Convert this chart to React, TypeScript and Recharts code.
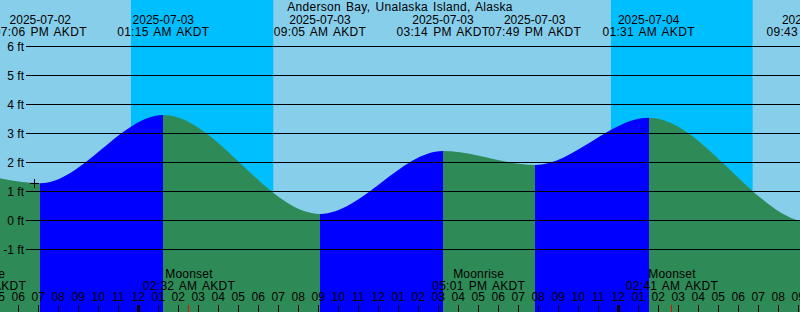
import {
  ComposedChart,
  Area,
  XAxis,
  YAxis,
  ReferenceArea,
  ReferenceLine,
  ReferenceDot,
} from "recharts";

const title = "Anderson Bay, Unalaska Island, Alaska";

// tide extremes, alternating low / high, as labelled along the top
const tideDates = ["2025-07-02", "2025-07-03", "2025-07-03", "2025-07-03", "2025-07-03", "2025-07-04", "2025-07-04"];
const tideTimes = ["07:06 PM AKDT", "01:15 AM AKDT", "09:05 AM AKDT", "03:14 PM AKDT", "07:49 PM AKDT", "01:31 AM AKDT", "09:43 AM AKDT"];
const tideLevels = [1.27, 3.62, 0.21, 2.38, 1.9, 3.53, -0.1];

// the highs just outside the picture on either side (estimated, unlabelled)
const outerDates = ["2025-07-02", "2025-07-04"];
const outerTimes = ["01:04 PM", "03:50 PM"];
const outerLevels = [2.4, 2.5];

// night (sunset -> sunrise)
const nightStartDates = ["2025-07-02", "2025-07-03"];
const nightStartTimes = ["11:38 PM", "11:38 PM"];
const nightEndDates = ["2025-07-03", "2025-07-04"];
const nightEndTimes = ["06:45 AM", "06:43 AM"];

const moonEvents = ["Moonrise", "Moonset", "Moonrise", "Moonset"];
const moonDates = ["2025-07-02", "2025-07-03", "2025-07-03", "2025-07-04"];
const moonTimes = ["04:04 PM AKDT", "02:32 AM AKDT", "05:01 PM AKDT", "02:41 AM AKDT"];

const levelTicks = [-1, 0, 1, 2, 3, 4, 5, 6];
// hours from midnight 2025-07-03
const hourTicks = [
  -7, -6, -5, -4, -3, -2, -1, 0, 1, 2, 3, 4, 5, 6, 7, 8, 9, 10, 11, 12, 13, 14, 15, 16,
  17, 18, 19, 20, 21, 22, 23, 24, 25, 26, 27, 28, 29, 30, 31, 32, 33,
];

// the "+" mark
const markHour = -5.19;
const markLevel = 1.26;

const W = 800;
const H = 312;
const X_MIN = -6.915;
const X_MAX = 33.085;
const Y_MIN = -92 / 29;
const Y_MAX = 220 / 29;

const FONT = "'Liberation Sans', Arial, sans-serif";
const DAY = "#87CEEB";
const NIGHT = "#00BFFF";
const RISING = "#0000FF";
const FALLING = "#2E8B57";

const toHours = (date: string, time: string) => {
  const day = (Date.parse(date) - Date.parse("2025-07-03")) / 86400000;
  const [hm, ap] = time.split(" ");
  const [h, m] = hm.split(":").map(Number);
  return day * 24 + (h % 12) + (ap === "PM" ? 12 : 0) + m / 60;
};

const tideHours = tideDates.map((d, i) => toHours(d, tideTimes[i]));
const outerHours = outerDates.map((d, i) => toHours(d, outerTimes[i]));
const tideData = [
  { h: outerHours[0], level: outerLevels[0] },
  ...tideHours.map((h, i) => ({ h, level: tideLevels[i] })),
  { h: outerHours[1], level: outerLevels[1] },
];

const nights = nightStartDates.map((d, i) => ({
  from: toHours(d, nightStartTimes[i]),
  to: toHours(nightEndDates[i], nightEndTimes[i]),
}));

const moonHours = moonDates.map((d, i) => toHours(d, moonTimes[i]));

// hard colour changes at every high / low
const hFirst = tideData[0].h;
const hLast = tideData[tideData.length - 1].h;
const stops: { offset: number; color: string }[] = [];
for (let i = 0; i < tideData.length - 1; i++) {
  const a = tideData[i];
  const b = tideData[i + 1];
  const color = b.level > a.level ? RISING : FALLING;
  stops.push({ offset: (a.h - hFirst) / (hLast - hFirst), color });
  stops.push({ offset: (b.h - hFirst) / (hLast - hFirst), color });
}

const pad = (n: number) => String(n).padStart(2, "0");
const hourLabel = (h: number) => pad(((h % 12) + 12) % 12 || 12);

const HourTick = (props: any) => {
  const { x, payload } = props;
  const h = payload.value;
  const midnight = ((h % 24) + 24) % 24 === 0;
  const px = Math.floor(x) + 0.5;
  return (
    <g>
      <text x={x} y={301} textAnchor="middle" fontSize={12} fontFamily={FONT} fill="#000">
        {hourLabel(h)}
      </text>
      <line x1={px} x2={px} y1={305} y2={312} stroke="#000" strokeWidth={midnight ? 3 : 1} />
    </g>
  );
};

const LevelTick = (props: any) => {
  const { y, payload } = props;
  return (
    <g>
      <text x={24} y={y + 4.5} textAnchor="end" fontSize={12} fontFamily={FONT} fill="#000">
        {payload.value} ft
      </text>
      <line x1={26} x2={W} y1={y + 0.5} y2={y + 0.5} stroke="#000" strokeWidth={1} />
    </g>
  );
};

const tideLabel = (i: number) => (props: any) => {
  const x = props.viewBox.x;
  return (
    <g fontSize={12} fontFamily={FONT} fill="#000" textAnchor="middle">
      <text x={x} y={23.5}>{tideDates[i]}</text>
      <text x={x} y={35.5} wordSpacing={1.5} letterSpacing={0.3}>{tideTimes[i]}</text>
    </g>
  );
};

const moonLabel = (i: number) => (props: any) => {
  const x = props.viewBox.x;
  const px = Math.floor(x) + 0.5;
  return (
    <g>
      <g fontSize={12} fontFamily={FONT} fill="#000" textAnchor="middle">
        <text x={x} y={277.5} letterSpacing={0.2}>{moonEvents[i]}</text>
        <text x={x} y={289.5} wordSpacing={1.5} letterSpacing={0.3}>{moonTimes[i]}</text>
      </g>
      <line x1={px} x2={px} y1={305} y2={312} stroke="#FF0000" strokeWidth={1} />
    </g>
  );
};

const Plus = (props: any) => {
  const { cx, cy } = props;
  return (
    <path
      d={`M${cx - 4.5},${cy}h9M${cx},${cy - 4.5}v9`}
      stroke="#000"
      strokeWidth={1}
      fill="none"
    />
  );
};

const App = () => {
  return (
    <div style={{ position: "absolute", left: 0, top: 0, width: W, height: H, background: DAY }}>
      <ComposedChart
        width={W}
        height={H}
        data={tideData}
        margin={{ top: 0, right: 0, bottom: 0, left: 0 }}
      >
        <defs>
          <linearGradient id="tideFill" x1="0" y1="0" x2="1" y2="0">
            {stops.map((s, i) => (
              <stop key={i} offset={s.offset} stopColor={s.color} />
            ))}
          </linearGradient>
        </defs>
        {nights.map((n, i) => (
          <ReferenceArea
            key={`night-${i}`}
            x1={n.from}
            x2={n.to}
            fill={NIGHT}
            fillOpacity={1}
            stroke="none"
            zIndex={-10}
          />
        ))}
        <Area
          type="monotone"
          dataKey="level"
          stroke="none"
          fill="url(#tideFill)"
          fillOpacity={1}
          baseValue={Y_MIN}
          isAnimationActive={false}
          activeDot={false}
          dot={false}
        />
        <XAxis
          dataKey="h"
          type="number"
          orientation="bottom"
          mirror
          domain={[X_MIN, X_MAX]}
          allowDataOverflow
          ticks={hourTicks}
          interval={0}
          height={30}
          axisLine={false}
          tickLine={false}
          tick={<HourTick />}
        />
        <YAxis
          type="number"
          orientation="left"
          mirror
          domain={[Y_MIN, Y_MAX]}
          allowDataOverflow
          ticks={levelTicks}
          interval={0}
          width={30}
          axisLine={false}
          tickLine={false}
          tick={<LevelTick />}
        />
        {tideHours.map((h, i) => (
          <ReferenceLine
            key={`tide-${i}`}
            x={h}
            stroke="none"
            ifOverflow="visible"
            label={tideLabel(i)}
          />
        ))}
        {moonHours.map((h, i) => (
          <ReferenceLine
            key={`moon-${i}`}
            x={h}
            stroke="none"
            ifOverflow="visible"
            label={moonLabel(i)}
          />
        ))}
        <ReferenceDot x={markHour} y={markLevel} r={5} shape={<Plus />} ifOverflow="visible" />
      </ComposedChart>
      <div
        style={{
          position: "absolute",
          left: 0,
          top: 0,
          width: W,
          textAlign: "center",
          fontFamily: FONT,
          fontSize: 12,
          lineHeight: "14px",
          letterSpacing: 0.3,
          wordSpacing: 1.5,
          color: "#000",
          pointerEvents: "none",
        }}
      >
        {title}
      </div>
    </div>
  );
};

export default App;
